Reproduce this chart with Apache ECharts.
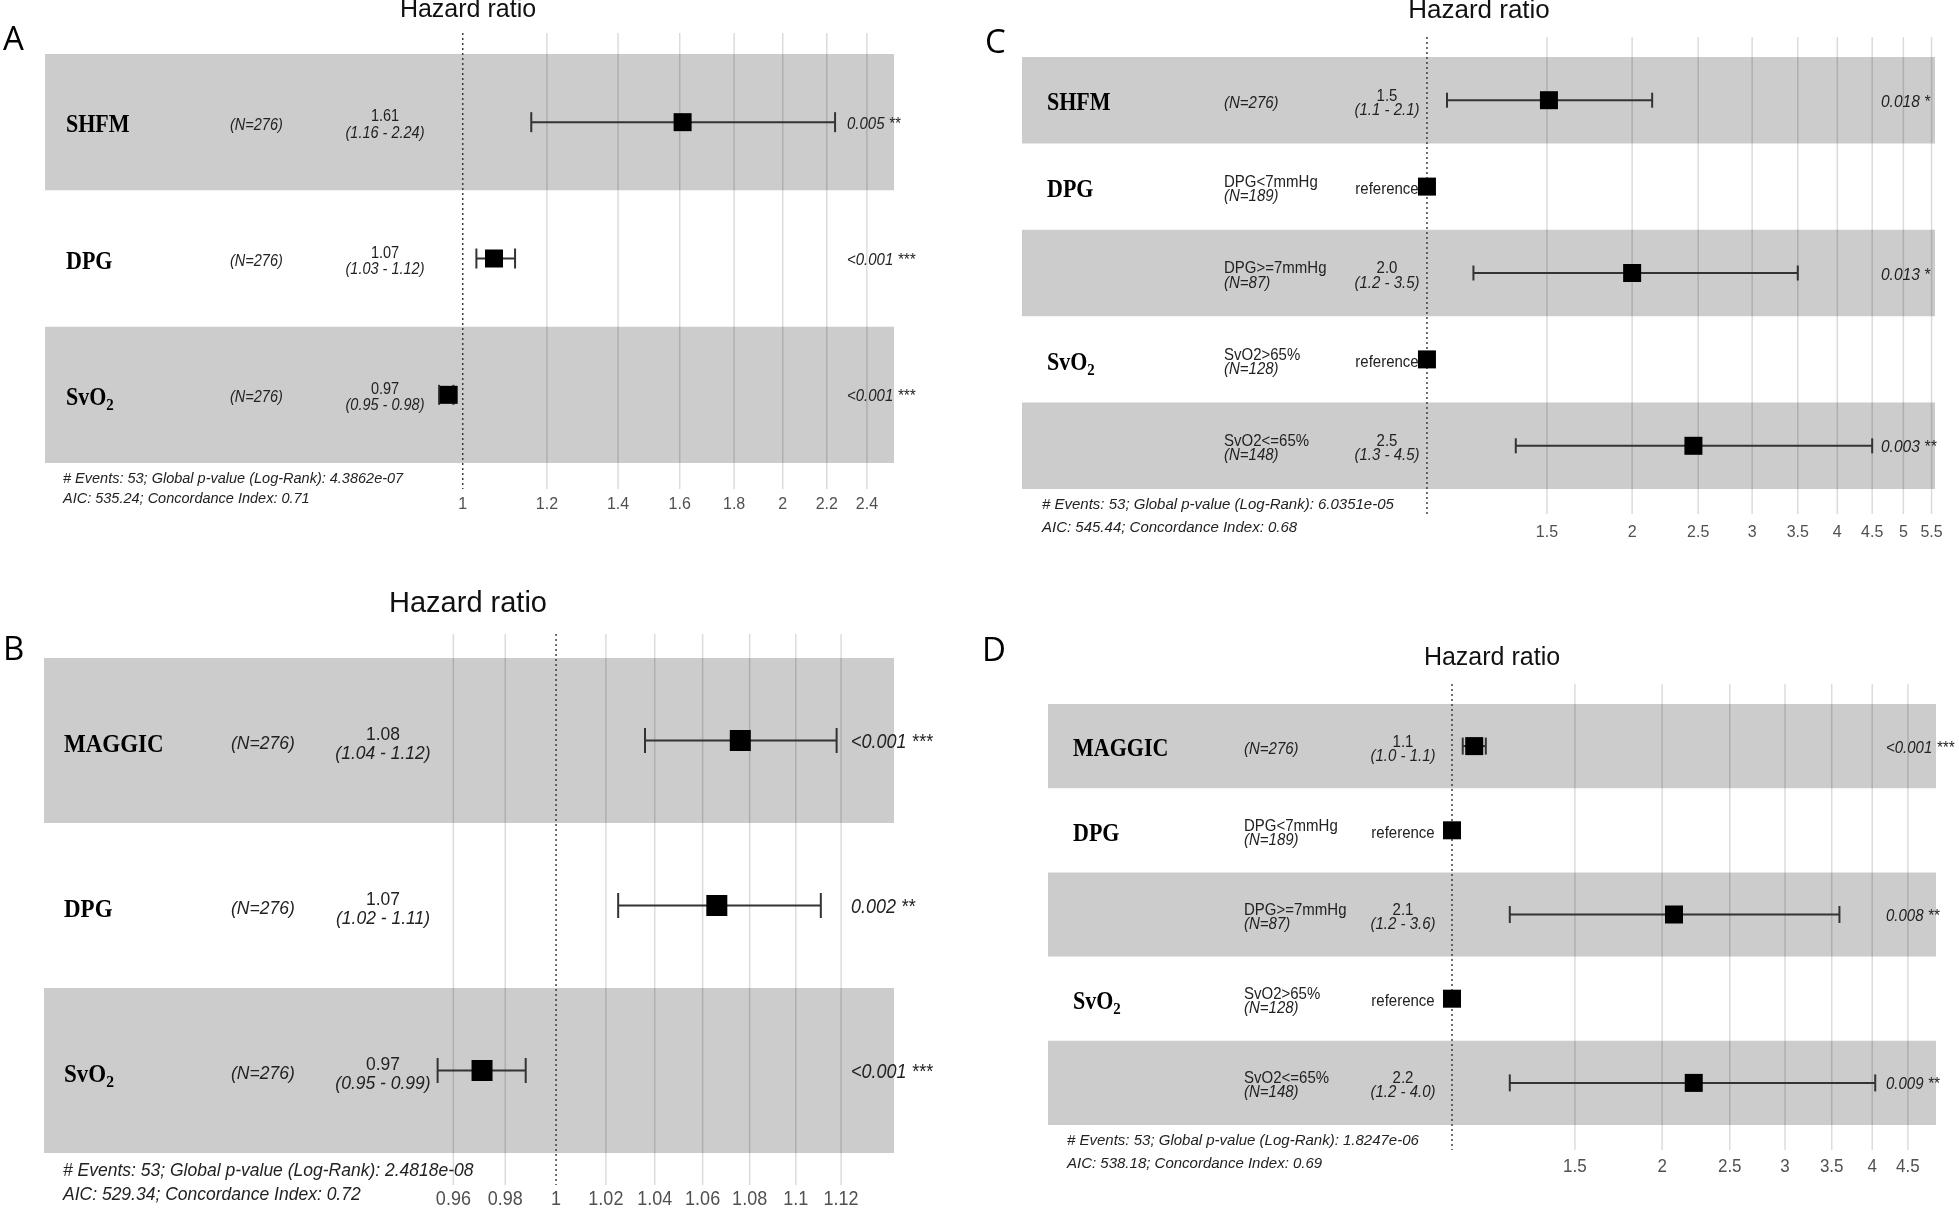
<!DOCTYPE html>
<html><head><meta charset="utf-8">
<script src="https://cdn.jsdelivr.net/npm/echarts@6/dist/echarts.min.js"></script>
<style>html,body{margin:0;padding:0;background:#fff}#c{width:1959px;height:1210px}</style>
</head><body><div id="c"></div>
<script>
// ---------------- Panel A ----------------
const aVars = ['SHFM', 'DPG', 'SvO₂'];
const aLevels = ['', '', ''];
const aN = ['(N=276)', '(N=276)', '(N=276)'];
const aHR = [1.61, 1.07, 0.97];
const aLo = [1.16, 1.03, 0.95];
const aHi = [2.24, 1.12, 0.98];
const aEst = ['1.61', '1.07', '0.97'];
const aCI = ['(1.16 - 2.24)', '(1.03 - 1.12)', '(0.95 - 0.98)'];
const aP = ['0.005 **', '<0.001 ***', '<0.001 ***'];
const aTicks = [1, 1.2, 1.4, 1.6, 1.8, 2, 2.2, 2.4];
const aFooter = ['# Events: 53; Global p-value (Log-Rank): 4.3862e-07', 'AIC: 535.24; Concordance Index: 0.71'];

// ---------------- Panel B ----------------
const bVars = ['MAGGIC', 'DPG', 'SvO₂'];
const bLevels = ['', '', ''];
const bN = ['(N=276)', '(N=276)', '(N=276)'];
const bHR = [1.076, 1.066, 0.971];
const bLo = [1.036, 1.025, 0.954];
const bHi = [1.118, 1.111, 0.988];
const bEst = ['1.08', '1.07', '0.97'];
const bCI = ['(1.04 - 1.12)', '(1.02 - 1.11)', '(0.95 - 0.99)'];
const bP = ['<0.001 ***', '0.002 **', '<0.001 ***'];
const bTicks = [0.96, 0.98, 1, 1.02, 1.04, 1.06, 1.08, 1.1, 1.12];
const bFooter = ['# Events: 53; Global p-value (Log-Rank): 2.4818e-08', 'AIC: 529.34; Concordance Index: 0.72'];

// ---------------- Panel C ----------------
const cVars = ['SHFM', 'DPG', '', 'SvO₂', ''];
const cLevels = ['', 'DPG<7mmHg', 'DPG>=7mmHg', 'SvO2>65%', 'SvO2<=65%'];
const cN = ['(N=276)', '(N=189)', '(N=87)', '(N=128)', '(N=148)'];
const cHR = [1.51, 1, 2.0, 1, 2.46];
const cLo = [1.07, null, 1.17, null, 1.35];
const cHi = [2.14, null, 3.5, null, 4.5];
const cEst = ['1.5', 'reference', '2.0', 'reference', '2.5'];
const cCI = ['(1.1 - 2.1)', '', '(1.2 - 3.5)', '', '(1.3 - 4.5)'];
const cP = ['0.018 *', '', '0.013 *', '', '0.003 **'];
const cTicks = [1.5, 2, 2.5, 3, 3.5, 4, 4.5, 5, 5.5];
const cFooter = ['# Events: 53; Global p-value (Log-Rank): 6.0351e-05', 'AIC: 545.44; Concordance Index: 0.68'];

// ---------------- Panel D ----------------
const dVars = ['MAGGIC', 'DPG', '', 'SvO₂', ''];
const dLevels = ['', 'DPG<7mmHg', 'DPG>=7mmHg', 'SvO2>65%', 'SvO2<=65%'];
const dN = ['(N=276)', '(N=189)', '(N=87)', '(N=128)', '(N=148)'];
const dHR = [1.076, 1, 2.08, 1, 2.22];
const dLo = [1.036, null, 1.21, null, 1.21];
const dHi = [1.118, null, 3.59, null, 4.04];
const dEst = ['1.1', 'reference', '2.1', 'reference', '2.2'];
const dCI = ['(1.0 - 1.1)', '', '(1.2 - 3.6)', '', '(1.2 - 4.0)'];
const dP = ['<0.001 ***', '', '0.008 **', '', '0.009 **'];
const dTicks = [1.5, 2, 2.5, 3, 3.5, 4, 4.5];
const dFooter = ['# Events: 53; Global p-value (Log-Rank): 1.8247e-06', 'AIC: 538.18; Concordance Index: 0.69'];

// ---------------- Layout (pixels / styles) ----------------
const layoutA = {letter: 'A', letterX: 3, letterY: 41, letterSize: 33, titleX: 468, titleY: 10, titleSize: 25,
  left: 45, right: 894, top: 54, bottom: 463, lineTop: 33, lineBottom: 489, tickY: 504, tickSize: 16,
  xMin: 0.4046, xMax: 2.545, varX: 66, varSize: 22, varDy: 4, nX: 230, estX: 385, pX: 847,
  txtSize: 14.5, pSize: 15, dyTop: -5, dyBot: 11, sq: 18, cap: 20, footX: 63, footY: [479, 499], footSize: 14.5};
const layoutB = {letter: 'B', letterX: 3, letterY: 651, letterSize: 33, titleX: 468, titleY: 604, titleSize: 29,
  left: 44, right: 894, top: 658, bottom: 1153, lineTop: 634, lineBottom: 1185, tickY: 1200, tickSize: 18,
  xMin: 0.8158, xMax: 1.1438, varX: 64, varSize: 23, varDy: 5, nX: 231, estX: 383, pX: 851,
  txtSize: 17.5, pSize: 18, dyTop: -6, dyBot: 13, sq: 21, cap: 25, footX: 63, footY: [1171, 1195], footSize: 17.5};
const layoutC = {letter: 'C', letterX: 985, letterY: 44, letterSize: 33, titleX: 1479, titleY: 11, titleSize: 26,
  left: 1022, right: 1935, top: 57, bottom: 489, lineTop: 37, lineBottom: 514, tickY: 532, tickSize: 16,
  xMin: 0.2546, xMax: 5.564, varX: 1047, varSize: 22, varDy: 4, nX: 1224, estX: 1387, pX: 1881,
  txtSize: 15, pSize: 15.5, dyTop: -4, dyBot: 10, sq: 18, cap: 15, footX: 1042, footY: [505, 528], footSize: 15};
const layoutD = {letter: 'D', letterX: 982, letterY: 652, letterSize: 33, titleX: 1492, titleY: 658, titleSize: 25,
  left: 1048, right: 1936, top: 704, bottom: 1125, lineTop: 684, lineBottom: 1150, tickY: 1167, tickSize: 17,
  xMin: 0.2637, xMax: 4.937, varX: 1073, varSize: 22, varDy: 4, nX: 1244, estX: 1403, pX: 1886,
  txtSize: 15, pSize: 15, dyTop: -4, dyBot: 10, sq: 18, cap: 17, footX: 1067, footY: [1141, 1164], footSize: 15};

const panels = [
  {vars: aVars, levels: aLevels, n: aN, hr: aHR, lo: aLo, hi: aHi, est: aEst, ci: aCI, p: aP, ticks: aTicks, footer: aFooter, L: layoutA},
  {vars: bVars, levels: bLevels, n: bN, hr: bHR, lo: bLo, hi: bHi, est: bEst, ci: bCI, p: bP, ticks: bTicks, footer: bFooter, L: layoutB},
  {vars: cVars, levels: cLevels, n: cN, hr: cHR, lo: cLo, hi: cHi, est: cEst, ci: cCI, p: cP, ticks: cTicks, footer: cFooter, L: layoutC},
  {vars: dVars, levels: dLevels, n: dN, hr: dHR, lo: dLo, hi: dHi, est: dEst, ci: dCI, p: dP, ticks: dTicks, footer: dFooter, L: layoutD}
];

const SANS = '"Liberation Sans", Arial, sans-serif';
const SERIF = '"Liberation Serif", "Times New Roman", serif';
const TXT = '#222222';

function txt(x, y, text, size, opts) {
  opts = opts || {};
  return {type: 'text', x: x, y: y, scaleY: 1.08, style: Object.assign({text: text, fontSize: size, fontFamily: SANS, fill: TXT,
    align: 'left', verticalAlign: 'middle'}, opts)};
}

function varLabel(x, y, text, size) {
  const style = {fontSize: size, fontFamily: SERIF, fontWeight: 'bold', fill: '#000', align: 'left', verticalAlign: 'middle'};
  if (text.indexOf('₂') >= 0) {
    const base = text.replace('₂', '');
    style.text = '{m|' + base + '}{s|2}';
    style.rich = {
      m: {fontSize: size, fontFamily: SERIF, fontWeight: 'bold', fill: '#000', lineHeight: size * 1.25, verticalAlign: 'middle'},
      s: {fontSize: size * 0.68, fontFamily: SERIF, fontWeight: 'bold', fill: '#000', lineHeight: size * 0.75, verticalAlign: 'bottom'}
    };
  } else {
    style.text = text;
  }
  return {type: 'text', x: x, y: y, scaleY: 1.1, style: style};
}

const option = {animation: false, backgroundColor: '#ffffff', grid: [], xAxis: [], yAxis: [], series: [], graphic: []};

panels.forEach(function (P, k) {
  const L = P.L;
  const nRows = P.vars.length;
  option.grid.push({left: L.left, top: L.top, width: L.right - L.left, height: L.bottom - L.top});
  option.xAxis.push({type: 'log', gridIndex: k, min: L.xMin, max: L.xMax, show: false, splitLine: {show: false}});
  option.yAxis.push({type: 'value', gridIndex: k, min: 0, max: nRows, inverse: true, show: false, splitLine: {show: false}});
  const rowData = P.vars.map(function (_, i) { return [1, i + 0.5]; });

  // alternating grey bands
  option.series.push({type: 'custom', name: 'bands' + k, xAxisIndex: k, yAxisIndex: k, z: 1, silent: true, data: rowData,
    renderItem: function (params, api) {
      const i = params.dataIndex;
      if (i % 2) return null;
      const cs = params.coordSys;
      const y0 = api.coord([1, i])[1];
      const y1 = api.coord([1, i + 1])[1];
      return {type: 'rect', shape: {x: cs.x, y: y0, width: cs.width, height: y1 - y0}, style: {fill: '#cccccc'}};
    }});

  // vertical grid lines + tick labels
  option.series.push({type: 'custom', name: 'ticks' + k, xAxisIndex: k, yAxisIndex: k, z: 2, silent: true,
    data: P.ticks.map(function (t) { return [t, 0]; }),
    renderItem: function (params, api) {
      const v = api.value(0);
      const x = api.coord([v, 0])[0];
      const ch = [];
      if (v !== 1) {
        ch.push({type: 'line', shape: {x1: x, y1: L.lineTop, x2: x, y2: L.lineBottom},
          style: {stroke: 'rgba(0,0,0,0.14)', lineWidth: 1.5}});
      }
      ch.push(txt(x, L.tickY, String(P.ticks[params.dataIndex]), L.tickSize, {fill: '#505050', align: 'center'}));
      return {type: 'group', children: ch};
    }});

  // dotted reference line at HR = 1
  option.series.push({type: 'custom', name: 'ref' + k, xAxisIndex: k, yAxisIndex: k, z: 3, silent: true, data: [[1, 0]],
    renderItem: function (params, api) {
      const x = api.coord([api.value(0), 0])[0];
      return {type: 'line', shape: {x1: x, y1: L.lineTop, x2: x, y2: L.lineBottom},
        style: {stroke: '#333333', lineWidth: 1.4, lineDash: [2, 3]}};
    }});

  // confidence intervals
  const ciData = [];
  P.hr.forEach(function (h, i) { if (P.lo[i] != null) ciData.push([P.lo[i], P.hi[i], i + 0.5]); });
  option.series.push({type: 'custom', name: 'ci' + k, xAxisIndex: k, yAxisIndex: k, z: 4, silent: true, data: ciData,
    encode: {x: [0, 1], y: 2},
    renderItem: function (params, api) {
      const p0 = api.coord([api.value(0), api.value(2)]);
      const p1 = api.coord([api.value(1), api.value(2)]);
      const h = L.cap / 2;
      const st = {stroke: '#333333', lineWidth: 2};
      return {type: 'group', children: [
        {type: 'line', shape: {x1: p0[0], y1: p0[1], x2: p1[0], y2: p1[1]}, style: st},
        {type: 'line', shape: {x1: p0[0], y1: p0[1] - h, x2: p0[0], y2: p0[1] + h}, style: st},
        {type: 'line', shape: {x1: p1[0], y1: p1[1] - h, x2: p1[0], y2: p1[1] + h}, style: st}
      ]};
    }});

  // hazard ratio squares
  option.series.push({type: 'scatter', name: 'hr' + k, xAxisIndex: k, yAxisIndex: k, z: 5, silent: true,
    data: P.hr.map(function (h, i) { return [h, i + 0.5]; }),
    symbol: 'rect', symbolSize: L.sq, itemStyle: {color: '#000000', opacity: 1}});

  // table text
  option.series.push({type: 'custom', name: 'table' + k, xAxisIndex: k, yAxisIndex: k, z: 6, silent: true, data: rowData,
    renderItem: function (params, api) {
      const i = params.dataIndex;
      const cy = api.coord([1, i + 0.5])[1];
      const ch = [];
      if (P.vars[i]) ch.push(varLabel(L.varX, cy + L.varDy, P.vars[i], L.varSize));
      if (P.levels[i]) {
        ch.push(txt(L.nX, cy + L.dyTop, P.levels[i], L.txtSize));
        ch.push(txt(L.nX, cy + L.dyBot, P.n[i], L.txtSize, {fontStyle: 'italic'}));
      } else {
        ch.push(txt(L.nX, cy + 3, P.n[i], L.txtSize, {fontStyle: 'italic'}));
      }
      if (P.ci[i]) {
        ch.push(txt(L.estX, cy + L.dyTop, P.est[i], L.txtSize, {align: 'center'}));
        ch.push(txt(L.estX, cy + L.dyBot, P.ci[i], L.txtSize, {align: 'center', fontStyle: 'italic'}));
      } else {
        ch.push(txt(L.estX, cy + 3, P.est[i], L.txtSize, {align: 'center'}));
      }
      if (P.p[i]) ch.push(txt(L.pX, cy + 2, P.p[i], L.pSize, {fontStyle: 'italic'}));
      return {type: 'group', children: ch};
    }});

  // panel letter, axis title, footer
  option.graphic.push({type: 'text', x: L.letterX, y: L.letterY, silent: true,
    style: {text: L.letter, fontSize: L.letterSize, fontFamily: '"Open Sans", sans-serif', fill: '#000', align: 'left', verticalAlign: 'middle'}});
  option.graphic.push({type: 'text', x: L.titleX, y: L.titleY, silent: true,
    style: {text: 'Hazard ratio', fontSize: L.titleSize, fontFamily: SANS, fill: '#111', align: 'center', verticalAlign: 'middle'}});
  P.footer.forEach(function (f, j) {
    option.graphic.push({type: 'text', x: L.footX, y: L.footY[j], silent: true,
      style: {text: f, fontSize: L.footSize, fontFamily: SANS, fontStyle: 'italic', fill: TXT, align: 'left', verticalAlign: 'middle'}});
  });
});

const chart = echarts.init(document.getElementById('c'), null, {renderer: 'canvas'});
chart.setOption(option);
</script>
</body></html>
